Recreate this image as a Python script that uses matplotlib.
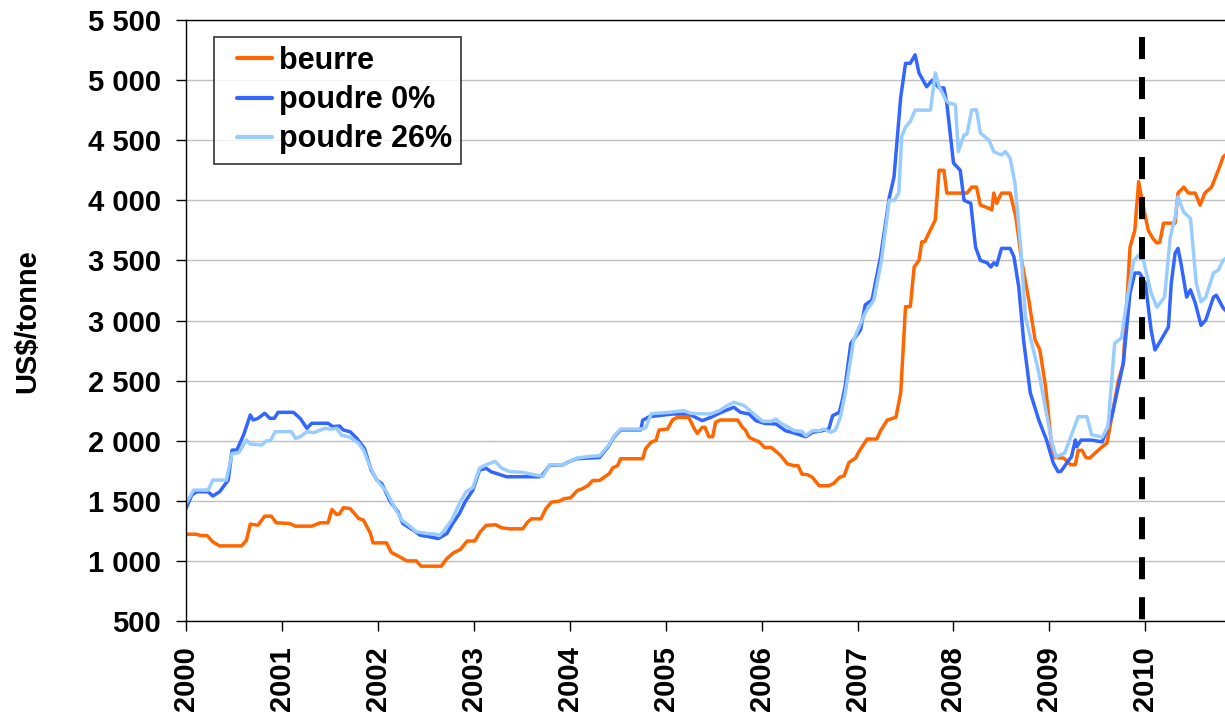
import matplotlib
matplotlib.use("Agg")
import matplotlib.pyplot as plt
from matplotlib.ticker import FixedLocator

# years since 2000 / US$ per tonne
beurre_t = [0.00, 0.11, 0.15, 0.22, 0.28, 0.35, 0.58, 0.63, 0.67, 0.75, 0.82, 0.89, 0.94, 1.08, 1.14, 1.31,
            1.40, 1.48, 1.52, 1.57, 1.60, 1.64, 1.71, 1.80, 1.85, 1.92, 1.95, 2.09, 2.14, 2.23, 2.30, 2.40,
            2.45, 2.66, 2.72, 2.79, 2.86, 2.93, 3.01, 3.07, 3.13, 3.23, 3.29, 3.37, 3.51, 3.56, 3.60, 3.70,
            3.75, 3.81, 3.89, 3.94, 4.01, 4.08, 4.13, 4.19, 4.24, 4.31, 4.36, 4.41, 4.45, 4.50, 4.53, 4.76,
            4.79, 4.85, 4.90, 4.93, 5.02, 5.07, 5.12, 5.24, 5.30, 5.33, 5.38, 5.41, 5.45, 5.49, 5.52, 5.57,
            5.75, 5.80, 5.83, 5.87, 5.94, 5.97, 6.03, 6.10, 6.15, 6.20, 6.27, 6.34, 6.38, 6.42, 6.48, 6.53,
            6.60, 6.70, 6.75, 6.81, 6.86, 6.91, 6.98, 7.01, 7.10, 7.20, 7.24, 7.31, 7.40, 7.45, 7.50, 7.55,
            7.59, 7.64, 7.67, 7.70, 7.76, 7.81, 7.85, 7.90, 7.93, 8.14, 8.19, 8.24, 8.28, 8.35, 8.40, 8.42,
            8.45, 8.50, 8.59, 8.65, 8.71, 8.78, 8.85, 8.90, 8.96, 9.02, 9.06, 9.15, 9.22, 9.27, 9.30, 9.34,
            9.38, 9.42, 9.48, 9.55, 9.60, 9.65, 9.72, 9.77, 9.84, 9.89, 9.93, 9.97, 10.03, 10.08, 10.12, 10.15,
            10.19, 10.31, 10.34, 10.40, 10.45, 10.52, 10.57, 10.62, 10.69, 10.76, 10.81, 10.84]
beurre_v = [1222, 1222, 1211, 1211, 1158, 1125, 1125, 1172, 1306, 1297, 1372, 1372, 1317, 1311, 1289, 1289,
            1317, 1317, 1428, 1386, 1390, 1442, 1436, 1353, 1339, 1233, 1150, 1150, 1070, 1033, 1000, 1000,
            956, 956, 1020, 1068, 1095, 1165, 1166, 1245, 1296, 1300, 1275, 1267, 1267, 1322, 1350, 1350,
            1433, 1489, 1497, 1517, 1525, 1586, 1600, 1627, 1669, 1669, 1697, 1725, 1775, 1794, 1850, 1850,
            1933, 1989, 2003, 2089, 2097, 2172, 2194, 2194, 2097, 2061, 2111, 2111, 2033, 2033, 2153, 2172,
            2172, 2111, 2089, 2028, 2000, 1994, 1944, 1944, 1911, 1875, 1806, 1792, 1792, 1722, 1717, 1694,
            1625, 1625, 1644, 1694, 1708, 1819, 1856, 1903, 2014, 2014, 2083, 2172, 2195, 2400, 3115, 3115,
            3445, 3500, 3655, 3655, 3755, 3835, 4250, 4250, 4060, 4060, 4110, 4110, 3960, 3940, 3920, 4060,
            3975, 4060, 4060, 3860, 3500, 3195, 2840, 2755, 2450, 1980, 1860, 1855, 1800, 1800, 1920, 1920,
            1860, 1855, 1900, 1950, 1980, 2200, 2505, 2640, 3610, 3750, 4155, 3980, 3750, 3680, 3645, 3650,
            3810, 3810, 4060, 4110, 4060, 4060, 3960, 4060, 4110, 4250, 4360, 4380]

poudre0_t = [0.00, 0.06, 0.11, 0.23, 0.28, 0.35, 0.44, 0.48, 0.53, 0.60, 0.67, 0.70, 0.75, 0.82, 0.875, 0.92,
             0.96, 1.12, 1.19, 1.26, 1.31, 1.48, 1.53, 1.60, 1.64, 1.71, 1.78, 1.86, 1.93, 1.99, 2.04, 2.13,
             2.21, 2.26, 2.37, 2.44, 2.54, 2.63, 2.72, 2.78, 2.85, 2.91, 2.99, 3.06, 3.13, 3.18, 3.34, 3.69,
             3.72, 3.79, 3.93, 4.00, 4.07, 4.20, 4.31, 4.41, 4.46, 4.53, 4.74, 4.76, 4.83, 5.07, 5.24, 5.38,
             5.47, 5.54, 5.64, 5.71, 5.78, 5.87, 5.94, 6.03, 6.15, 6.25, 6.35, 6.46, 6.53, 6.63, 6.70, 6.74,
             6.81, 6.84, 6.87, 6.93, 7.03, 7.08, 7.15, 7.24, 7.33, 7.38, 7.45, 7.50, 7.55, 7.60, 7.64, 7.72,
             7.78, 7.85, 7.90, 7.93, 8.00, 8.07, 8.11, 8.18, 8.23, 8.28, 8.35, 8.39, 8.42, 8.45, 8.50, 8.59,
             8.63, 8.68, 8.73, 8.80, 8.89, 8.97, 9.04, 9.09, 9.12, 9.18, 9.23, 9.27, 9.285, 9.33, 9.44, 9.55,
             9.65, 9.77, 9.84, 9.89, 9.94, 10.00, 10.06, 10.10, 10.15, 10.24, 10.27, 10.31, 10.34, 10.37, 10.43, 10.47,
             10.52, 10.58, 10.63, 10.71, 10.74, 10.81, 10.84]
poudre0_v = [1436, 1547, 1575, 1575, 1540, 1575, 1672, 1922, 1922, 2047, 2214, 2172, 2186, 2228, 2186, 2186,
             2236, 2236, 2186, 2103, 2145, 2145, 2117, 2122, 2089, 2075, 2020, 1936, 1756, 1672, 1644, 1492,
             1408, 1311, 1255, 1214, 1200, 1186, 1228, 1311, 1394, 1492, 1589, 1756, 1770, 1742, 1700, 1700,
             1720, 1795, 1800, 1828, 1850, 1855, 1860, 1960, 2030, 2090, 2090, 2170, 2200, 2222, 2222, 2167,
             2194, 2222, 2256, 2278, 2236, 2222, 2167, 2144, 2139, 2083, 2061, 2033, 2069, 2083, 2097, 2208,
             2236, 2333, 2450, 2810, 2920, 3130, 3170, 3530, 4020, 4195, 4860, 5140, 5140, 5210, 5060, 4945,
             5000, 4935, 4935, 4810, 4310, 4250, 4000, 3975, 3610, 3500, 3480, 3445, 3480, 3460, 3600, 3600,
             3530, 3280, 2840, 2400, 2170, 2005, 1815, 1742, 1745, 1814, 1867, 2006, 1950, 2005, 2005, 1990,
             2200, 2645, 3230, 3395, 3395, 3310, 2920, 2755, 2820, 2945, 3310, 3560, 3600, 3480, 3195, 3255,
             3145, 2960, 3005, 3195, 3210, 3105, 3080]

poudre26_t = [0.00, 0.08, 0.23, 0.28, 0.42, 0.48, 0.55, 0.63, 0.67, 0.79, 0.84, 0.88, 0.93, 1.10, 1.14, 1.19,
              1.26, 1.33, 1.45, 1.50, 1.57, 1.62, 1.71, 1.80, 1.85, 1.92, 1.99, 2.09, 2.18, 2.25, 2.32, 2.40,
              2.51, 2.61, 2.64, 2.68, 2.77, 2.85, 2.92, 2.99, 3.06, 3.13, 3.22, 3.29, 3.37, 3.51, 3.72, 3.79,
              3.93, 4.00, 4.07, 4.20, 4.31, 4.41, 4.46, 4.53, 4.74, 4.79, 4.85, 5.04, 5.19, 5.26, 5.47, 5.56,
              5.64, 5.71, 5.82, 5.87, 5.96, 6.01, 6.10, 6.15, 6.20, 6.25, 6.34, 6.42, 6.46, 6.53, 6.60, 6.65,
              6.72, 6.77, 6.82, 6.87, 6.96, 7.08, 7.17, 7.25, 7.33, 7.38, 7.43, 7.46, 7.50, 7.55, 7.60, 7.76,
              7.81, 7.85, 7.92, 7.95, 8.02, 8.05, 8.11, 8.14, 8.19, 8.24, 8.28, 8.37, 8.42, 8.50, 8.54, 8.59,
              8.64, 8.70, 8.75, 8.89, 9.02, 9.07, 9.16, 9.23, 9.30, 9.39, 9.44, 9.55, 9.61, 9.68, 9.75, 9.82,
              9.88, 9.93, 9.98, 10.06, 10.12, 10.20, 10.26, 10.31, 10.34, 10.40, 10.47, 10.53, 10.58, 10.63, 10.71, 10.76,
              10.81, 10.84]
poudre26_v = [1478, 1589, 1589, 1672, 1672, 1894, 1900, 2006, 1972, 1964, 2000, 2000, 2075, 2075, 2020, 2033,
              2075, 2067, 2103, 2095, 2103, 2047, 2028, 1978, 1922, 1783, 1672, 1575, 1436, 1339, 1297, 1242,
              1228, 1222, 1210, 1242, 1339, 1478, 1575, 1610, 1772, 1800, 1828, 1772, 1744, 1736, 1703, 1800,
              1800, 1828, 1855, 1869, 1875, 1966, 2036, 2097, 2097, 2105, 2225, 2236, 2250, 2228, 2222, 2250,
              2292, 2319, 2292, 2256, 2194, 2161, 2161, 2181, 2144, 2125, 2083, 2078, 2042, 2083, 2083, 2097,
              2069, 2089, 2194, 2389, 2840, 3065, 3170, 3505, 4000, 4000, 4060, 4530, 4610, 4655, 4750, 4750,
              5060, 4945, 4835, 4810, 4795, 4405, 4543, 4550, 4752, 4752, 4560, 4500, 4405, 4377, 4405, 4352,
              4145, 3612, 3030, 2565, 2005, 1865, 1898, 2048, 2200, 2200, 2050, 2030, 2117, 2810, 2855, 3230,
              3500, 3545, 3500, 3230, 3110, 3195, 3695, 3860, 4030, 3900, 3850, 3310, 3155, 3195, 3395, 3420,
              3500, 3520]

annee_base = 2000
annee_marque = 2009.96  # dashed vertical line
annees = list(range(2000, 2011))
y_ticks = [500, 1000, 1500, 2000, 2500, 3000, 3500, 4000, 4500, 5000, 5500]
y_labels = ["500", "1 000", "1 500", "2 000", "2 500", "3 000", "3 500", "4 000", "4 500", "5 000", "5 500"]

plt.rcParams['font.family'] = ['Liberation Sans', 'DejaVu Sans']
plt.rcParams['font.weight'] = 'bold'

W, H = 1225, 717
fig = plt.figure(figsize=(W / 100, H / 100), dpi=100)
ax = fig.add_axes([186 / W, (H - 621) / H, (W - 186) / W, (621 - 20) / H])

ax.plot([annee_base + t for t in beurre_t], beurre_v, color='#FF6600', lw=2.5, label='beurre')
ax.plot([annee_base + t for t in poudre0_t], poudre0_v, color='#3366FF', lw=2.5, label='poudre 0%')
ax.plot([annee_base + t for t in poudre26_t], poudre26_v, color='#99CCFF', lw=2.5, label='poudre 26%')
ax.plot([annee_marque, annee_marque], [5360, 500], color='black', lw=4.3,
        dashes=(3.7, 3.0), solid_capstyle='butt', dash_capstyle='butt', clip_on=False)

ax.set_xlim(2000, 2010.83)
ax.set_ylim(500, 5500)
ax.xaxis.set_major_locator(FixedLocator(annees))
ax.set_xticklabels([str(a) for a in annees], rotation=90, fontsize=21, fontweight='bold')
ax.yaxis.set_major_locator(FixedLocator(y_ticks))
ax.set_yticklabels(y_labels, fontsize=21, fontweight='bold')
ax.tick_params(axis='x', direction='out', length=7, width=1, pad=11)
ax.tick_params(axis='y', direction='out', length=7, width=1, pad=11)

ax.grid(axis='y', color='#c0c0c0', lw=1)
ax.set_axisbelow(True)
ax.spines['right'].set_visible(False)
for s in ['left', 'bottom', 'top']:
    ax.spines[s].set_linewidth(1)
    ax.spines[s].set_color('black')

fig.text(27 / W, 1 - 321 / H, 'US$/tonne', rotation=90, ha='center', va='center',
         fontsize=21, fontweight='bold')

leg = ax.legend(loc='upper left', bbox_to_anchor=((214 - 186) / (W - 186), (621 - 37) / (621 - 20)),
                borderaxespad=0, fontsize=22, frameon=True, fancybox=False, edgecolor='black',
                handlelength=1.6, handletextpad=0.22, labelspacing=0.3, borderpad=0.3)
leg.get_frame().set_linewidth(1.2)
for h in leg.get_lines():
    h.set_linewidth(3)
    h.set_solid_capstyle('round')
    xd = h.get_xdata()
    yd = h.get_ydata()
    h.set_xdata([xd[-1] - 25, xd[-1]])  # shorter sample line, inset from the frame
    h.set_ydata([yd[0], yd[0]])
for txt in leg.get_texts():
    txt.set_fontweight('bold')

fig.savefig('out.png', dpi=100)
